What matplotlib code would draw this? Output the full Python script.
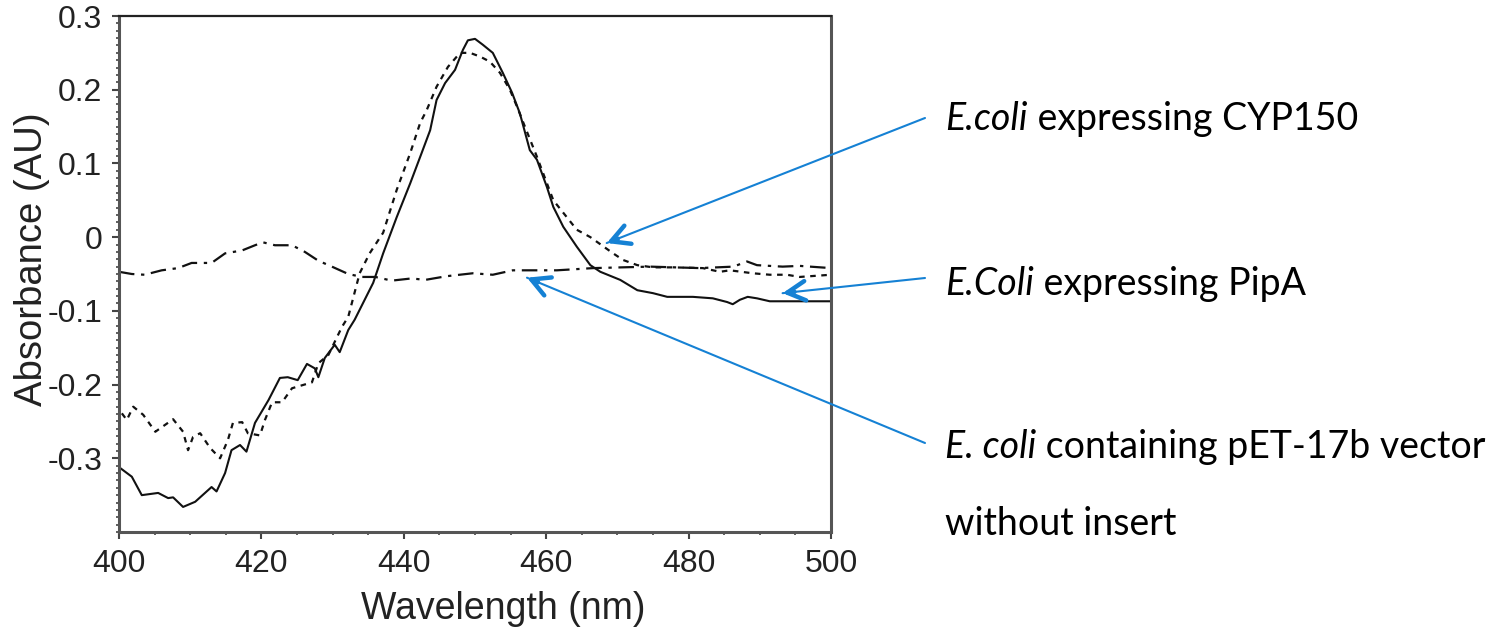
import numpy as np
import matplotlib
matplotlib.use('Agg')
import matplotlib.pyplot as plt
from matplotlib.ticker import MultipleLocator

################################################################################
### data (wavelength nm, absorbance AU)
wl_pipa = [400.0, 401.8, 403.2, 405.5, 406.9, 407.6, 409.0, 410.7, 413.0, 413.7,
           414.9, 415.8, 417.0, 417.9, 419.1, 421.0, 422.6, 423.7, 425.1, 426.4,
           427.5, 428.0, 428.9, 430.3, 431.0, 432.2, 433.1, 435.7, 437.1, 439.0,
           440.9, 442.5, 443.7, 444.6, 445.8, 447.2, 448.3, 449.0, 450.0, 451.1,
           452.5, 453.9, 455.2, 456.3, 457.7, 458.7, 460.1, 461.0, 462.4, 464.3,
           466.2, 467.6, 470.4, 472.8, 475.0, 477.0, 480.6, 483.4, 485.4, 486.2,
           487.2, 488.3, 489.6, 491.4, 500.0]
ab_pipa = [-0.312, -0.325, -0.350, -0.347, -0.354, -0.353, -0.366, -0.359, -0.339, -0.345,
           -0.320, -0.289, -0.282, -0.291, -0.252, -0.221, -0.191, -0.190, -0.194, -0.172,
           -0.178, -0.190, -0.164, -0.146, -0.156, -0.126, -0.112, -0.062, -0.022, 0.027,
           0.073, 0.114, 0.145, 0.186, 0.209, 0.227, 0.254, 0.267, 0.269, 0.261,
           0.250, 0.223, 0.196, 0.168, 0.118, 0.105, 0.068, 0.041, 0.014, -0.013,
           -0.038, -0.047, -0.058, -0.072, -0.076, -0.081, -0.081, -0.083, -0.088, -0.091,
           -0.085, -0.081, -0.083, -0.087, -0.087]

wl_cyp = [400.4, 401.1, 402.0, 403.4, 405.1, 407.6, 409.0, 409.7, 410.4, 411.4,
          412.8, 414.2, 415.3, 416.0, 417.3, 418.1, 419.8, 420.5, 421.5, 422.9,
          424.3, 427.1, 428.0, 429.4, 431.3, 432.2, 433.8, 435.2, 437.1, 439.0,
          440.9, 442.3, 443.2, 444.6, 446.2, 447.9, 449.3, 450.7, 452.1, 453.5,
          454.9, 455.9, 456.8, 458.7, 461.0, 462.9, 464.3, 466.2, 467.8, 469.4,
          470.8, 472.8, 475.0, 477.8, 482.0, 484.4, 485.8, 489.0, 491.4, 493.8,
          495.6, 500.0]
ab_cyp = [-0.239, -0.248, -0.230, -0.241, -0.264, -0.247, -0.264, -0.289, -0.271, -0.266,
          -0.286, -0.300, -0.275, -0.252, -0.251, -0.266, -0.269, -0.248, -0.224, -0.224,
          -0.205, -0.197, -0.171, -0.160, -0.122, -0.108, -0.049, -0.022, 0.006, 0.064,
          0.114, 0.155, 0.172, 0.204, 0.231, 0.250, 0.250, 0.245, 0.238, 0.223,
          0.200, 0.177, 0.155, 0.109, 0.050, 0.027, 0.010, 0.000, -0.011, -0.022,
          -0.031, -0.038, -0.041, -0.041, -0.042, -0.047, -0.045, -0.049, -0.051, -0.051,
          -0.054, -0.051]

wl_vec = [400.0, 401.8, 403.6, 406.0, 408.3, 410.2, 413.0, 414.9, 417.3, 419.1,
          420.2, 421.9, 424.3, 426.1, 428.0, 429.9, 432.2, 434.1, 436.0, 438.3,
          441.1, 443.0, 446.0, 449.7, 452.5, 455.3, 458.5, 461.5, 466.6, 474.6,
          481.6, 486.3, 488.2, 489.6, 493.2, 495.6, 500.0]
ab_vec = [-0.047, -0.050, -0.051, -0.045, -0.042, -0.035, -0.035, -0.022, -0.018, -0.011,
          -0.007, -0.011, -0.011, -0.020, -0.032, -0.040, -0.050, -0.054, -0.054, -0.059,
          -0.056, -0.058, -0.053, -0.049, -0.051, -0.045, -0.045, -0.045, -0.042, -0.040,
          -0.042, -0.040, -0.033, -0.038, -0.040, -0.039, -0.042]

y_ticks = [-0.3, -0.2, -0.1, 0.0, 0.1, 0.2, 0.3]
y_ticklabels = ['-0.3', '-0.2', '-0.1', '0', '0.1', '0.2', '0.3']
x_ticks = [400, 420, 440, 460, 480, 500]

# annotation labels: (italic part, rest), arrow tip in data coords
labels = [('E.coli', ' expressing CYP150'),
          ('E.Coli', ' expressing PipA'),
          ('E. coli', ' containing pET-17b vector')]
tips = [(468.5, -0.008), (493.2, -0.076), (457.3, -0.055)]

################################################################################
### figure
W, H = 1511, 629
fig = plt.figure(figsize=(W/100, H/100), dpi=100)
ax = fig.add_axes([119/W, 97/H, (831-119)/W, 516/H])

ax.plot(wl_pipa, ab_pipa, color='#111111', lw=1.5)
ax.plot(wl_cyp, ab_cyp, color='#111111', lw=1.6, dashes=(2.5, 2.5))
ax.plot(wl_vec, ab_vec, color='#111111', lw=1.6, dashes=(7, 3, 1.5, 3))

ax.set_xlim(400, 500)
ax.set_ylim(-0.4, 0.3)
ax.set_xticks(x_ticks)
ax.set_yticks(y_ticks)
ax.set_yticklabels(y_ticklabels)
ax.xaxis.set_minor_locator(MultipleLocator(5))
ax.yaxis.set_minor_locator(MultipleLocator(0.01))

for lab in ax.get_xticklabels() + ax.get_yticklabels():
    lab.set_fontfamily('Liberation Sans')
    lab.set_fontsize(23)
    lab.set_color('#222222')
ax.tick_params(which='major', direction='out', length=5, width=1.5, color='#444444', pad=7)
ax.tick_params(which='minor', direction='out', length=2.5, width=1.2, color='#444444')

for side in ['left', 'bottom', 'right']:
    ax.spines[side].set_linewidth(2.2)
    ax.spines[side].set_color('#555555')
ax.spines['top'].set_linewidth(1.6)
ax.spines['top'].set_color('#222222')

ax.set_xlabel('Wavelength (nm)', fontfamily='Liberation Sans', fontsize=27,
              color='#222222')
ax.set_ylabel('Absorbance (AU)', fontfamily='Liberation Sans', fontsize=27.5,
              color='#222222')
ax.xaxis.set_label_coords(0.539, -0.114)
ax.yaxis.set_label_coords(-0.097, 0.529)

################################################################################
### annotations with blue arrows
blue = '#1581d4'
text_x = 945
text_y = [119, 284, 447]       # pixel centres from top
arrow_start = [(925, 118), (925, 278), (925, 443)]
annfont = 'Lato'
annsize = 27

renderer = fig.canvas.get_renderer()
for (ital, rest), ty in zip(labels, text_y):
    t1 = fig.text(text_x/W, 1 - ty/H, ital, fontfamily=annfont, fontstyle='italic',
                  fontsize=annsize, va='center', ha='left')
    bb = t1.get_window_extent(renderer)
    fig.text(bb.x1/W, 1 - ty/H, rest, fontfamily=annfont, fontsize=annsize,
             va='center', ha='left')
fig.text(text_x/W, 1 - 524/H, 'without insert', fontfamily=annfont,
         fontsize=annsize, va='center', ha='left')

for (sx, sy), tip in zip(arrow_start, tips):
    start = np.array([sx, H - sy], dtype=float)
    tip_px = ax.transData.transform(tip)
    ax.annotate('', xy=tip, xycoords='data', xytext=tuple(start),
                textcoords='figure pixels',
                arrowprops=dict(arrowstyle='-', color=blue, lw=1.5,
                                shrinkA=0, shrinkB=0))
    d = start - tip_px
    d = d / np.hypot(*d)
    ax.annotate('', xy=tip, xycoords='data', xytext=tuple(tip_px + d*12),
                textcoords='figure pixels',
                arrowprops=dict(arrowstyle='->,head_length=1.3,head_width=0.7',
                                color=blue, lw=3.2, shrinkA=0, shrinkB=0))

plt.savefig('out.png', dpi=100)
